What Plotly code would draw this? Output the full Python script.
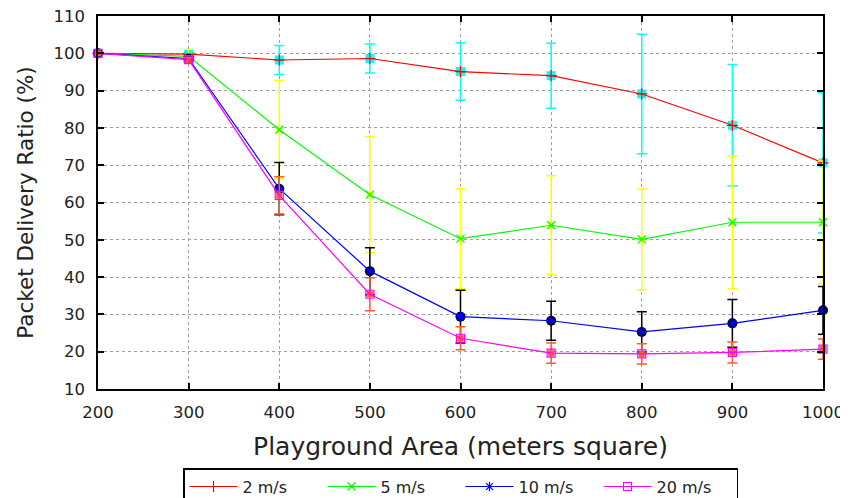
import plotly.graph_objects as go

area = [200, 300, 400, 500, 600, 700, 800, 900, 1000]

pdr_2 = [100, 99.8, 98.2, 98.6, 95.1, 94.0, 89.1, 80.7, 70.6]
err_2 = [0, 0.5, 3.9, 3.9, 7.7, 8.7, 16.0, 16.3, 18.8]
pdr_5 = [100, 99.2, 79.5, 62.1, 50.3, 53.9, 50.1, 54.7, 54.7]
err_5 = [0, 1.9, 13.2, 15.6, 13.4, 13.3, 13.5, 17.8, 16.4]
pdr_10 = [100, 98.6, 63.7, 41.6, 29.4, 28.3, 25.3, 27.6, 31.1]
err_10 = [0, 0.6, 7.0, 6.3, 7.1, 5.2, 5.4, 6.4, 6.4]
pdr_20 = [100, 98.3, 61.9, 35.4, 23.6, 19.6, 19.4, 19.8, 20.7]
err_20 = [0, 0.6, 5.0, 4.4, 3.1, 2.7, 2.7, 2.8, 2.7]

labels = ["2 m/s", "5 m/s", "10 m/s", "20 m/s"]
series = [pdr_2, pdr_5, pdr_10, pdr_20]
errors = [err_2, err_5, err_10, err_20]
line_colors = ["#ff0000", "#00ff00", "#0000ff", "#ff00ff"]
line_symbols = ["cross-thin-open", "x-thin-open", "asterisk-open", "square-open"]
err_colors = ["#00ffff", "#ffff00", "#000000", "#ff5a28"]
err_symbols = ["square", "square", "circle", "square"]
err_sizes = [9, 6, 10, 6]

fig = go.Figure()

for i in range(4):
    fig.add_trace(go.Scatter(
        x=area, y=series[i], mode="markers",
        marker=dict(symbol=err_symbols[i], size=err_sizes[i], color=err_colors[i],
                    line=dict(width=0)),
        error_y=dict(type="data", array=errors[i], color=err_colors[i],
                     thickness=1.5, width=5),
        showlegend=False, cliponaxis=False, hoverinfo="skip",
    ))
    fig.add_trace(go.Scatter(
        x=area, y=series[i], mode="lines+markers", name=labels[i],
        line=dict(color=line_colors[i], width=1.2),
        marker=dict(symbol=line_symbols[i], size=8, color=line_colors[i],
                    line=dict(width=1.2, color=line_colors[i])),
        cliponaxis=False,
    ))

axis_common = dict(
    showline=True, linecolor="#000000", linewidth=1.5, mirror="ticks",
    ticks="inside", ticklen=6, tickcolor="#000000", tickwidth=1.5,
    showgrid=True, gridcolor="#a0a0a0", griddash="dot", gridwidth=1,
    zeroline=False, ticklabeloverflow="allow",
    tickfont=dict(family="DejaVu Sans", size=16.5, color="#222222"),
)

fig.update_xaxes(
    range=[200, 1000], tickvals=area, ticklabelstandoff=7, **axis_common,
    title=dict(text="Playground Area (meters square)",
               font=dict(family="DejaVu Sans", size=25, color="#222222"), standoff=17),
)
fig.update_yaxes(
    range=[10, 110], tick0=10, dtick=10, ticklabelstandoff=8, **axis_common,
    title=dict(text="Packet Delivery Ratio (%)",
               font=dict(family="DejaVu Sans", size=21.5, color="#222222"), standoff=14),
)

# page body has an 8px margin, so the figure is laid out 8px up/left
fig.update_layout(
    width=840, height=498,
    margin=dict(l=90, r=25, t=8, b=117, autoexpand=False),
    plot_bgcolor="white", paper_bgcolor="white",
    font=dict(family="DejaVu Sans", color="#222222"),
    legend=dict(
        orientation="h", x=0.5, xanchor="center", y=-0.212, yanchor="top",
        bordercolor="#000000", borderwidth=1.5,
        font=dict(family="DejaVu Sans", size=16, color="#222222"),
        itemwidth=48, entrywidth=75, entrywidthmode="pixels", tracegroupgap=0,
    ),
)

fig.write_html("out.html")
